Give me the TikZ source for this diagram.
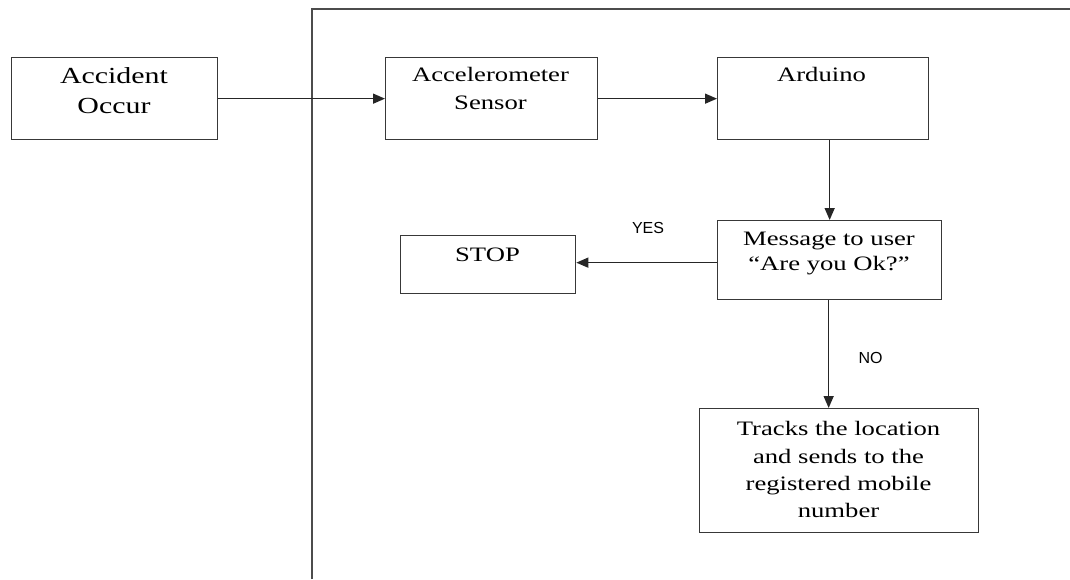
\documentclass[tikz,border=0pt]{standalone}
\usepackage{fontspec}
\setmainfont{Liberation Serif}[FakeStretch=1.3]
\newfontfamily\lblfont{Liberation Sans}
\usetikzlibrary{arrows.meta}
\tikzset{
  box/.style={draw=black!78, line width=1.3pt, rectangle, inner sep=0pt, anchor=north west},
  boxtext/.style={anchor=north, inner sep=0pt, align=center, text=black},
  arr/.style={draw=black!85, line width=1.4pt, -{Triangle[length=12pt,width=10pt]}},
  frame/.style={draw=black!70, line width=1.5pt},
  lbl/.style={anchor=base, inner sep=0pt, font=\lblfont\fontsize{16}{18}\selectfont}
}
\begin{document}
\begin{tikzpicture}[x=1pt,y=-1pt]
\useasboundingbox (0,0) rectangle (1070,579);
% frame
\coordinate (fb) at (312,579);
\coordinate (ft) at (312,9);
\coordinate (fr) at (1070,9);
\draw[frame] (fb) -- (ft) -- (fr);
% boxes
\node[box, minimum width=206pt, minimum height=82pt] (acc) at (11,57) {};
\node[box, minimum width=212pt, minimum height=82pt] (accel) at (385,57) {};
\node[box, minimum width=211pt, minimum height=82pt] (ard) at (717,57) {};
\node[box, minimum width=224pt, minimum height=79pt] (msg) at (717,220) {};
\node[box, minimum width=175pt, minimum height=58pt] (stop) at (400,235) {};
\node[box, minimum width=279pt, minimum height=124pt] (trk) at (699,408) {};
% texts
\node[boxtext, font=\fontsize{23}{30}\selectfont] (acct) at (114,67.5) {Accident\\Occur};
\node[boxtext, font=\fontsize{20.5}{28}\selectfont] (accelt) at (490.5,67.5) {Accelerometer\\Sensor};
\node[boxtext, font=\fontsize{20.5}{28}\selectfont] (ardt) at (821.5,67.5) {Arduino};
\node[boxtext, font=\fontsize{20.5}{25}\selectfont] (msgt) at (829,231.5) {Message to user\\“Are you Ok?”};
\node[boxtext, font=\fontsize{20.5}{28}\selectfont] (stopt) at (487.5,247.5) {STOP};
\node[boxtext, font=\fontsize{20.5}{27.3}\selectfont] (trkt) at (838.5,421.5) {Tracks the location\\and sends to the\\registered mobile\\number};
% connectors
\draw[arr] (acc.east) -- (accel.west);
\draw[arr] (accel.east) -- (ard.west);
\draw[arr] (msg.north |- ard.south) -- (msg.north);
\draw[arr] ([yshift=-2.5pt]msg.west) -- ([yshift=-2.5pt]msg.west -| stop.east);
\draw[arr] ([xshift=-1pt]msg.south) -- ([xshift=-1pt]msg.south |- trk.north);
% labels
\node[lbl] (yes) at (648,233) {YES};
\node[lbl] (no) at (870.5,363) {NO};
\end{tikzpicture}
\end{document}
